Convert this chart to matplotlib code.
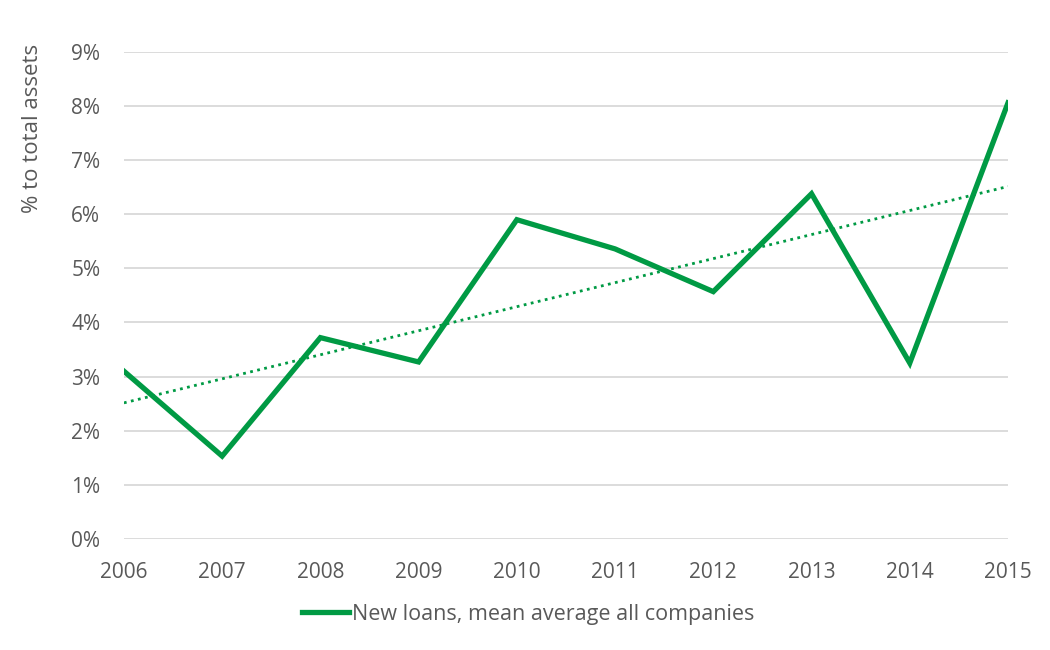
import numpy as np
import matplotlib.pyplot as plt
from matplotlib.ticker import FuncFormatter

plt.rcParams['font.family'] = ['Open Sans', 'DejaVu Sans']

YEARS = [2006, 2007, 2008, 2009, 2010, 2011, 2012, 2013, 2014, 2015]
NEW_LOANS = [3.10, 1.53, 3.72, 3.27, 5.90, 5.36, 4.57, 6.38, 3.25, 8.06]

GREEN = "#009A44"
TEXT = "#595959"

fig = plt.figure(figsize=(10.5, 6.5), dpi=100)
ax = fig.add_axes([0.118, 0.171, 0.842, 0.749])

x = np.array(YEARS)
y = np.array(NEW_LOANS)

# linear trend, like the spreadsheet trendline
slope, icept = np.polyfit(x, y, 1)
ax.plot(x, slope * x + icept, color=GREEN, lw=2.0, ls=(0, (1, 1.6)), zorder=3)

ax.plot(x, y, color=GREEN, lw=3.8, solid_joinstyle="miter", zorder=4,
        label="New loans, mean average all companies")

ax.set_xlim(2006, 2015)
ax.set_ylim(0, 9)
ax.set_xticks(YEARS)
ax.set_yticks(range(0, 10))
ax.yaxis.set_major_formatter(FuncFormatter(lambda v, p: f"{int(v)}%"))
ax.grid(axis="y", color="#d9d9d9", lw=1.3)
ax.set_axisbelow(True)
for s in ax.spines.values():
    s.set_visible(False)
ax.tick_params(length=0, labelsize=15, colors=TEXT)
ax.tick_params(axis="x", pad=17)
ax.tick_params(axis="y", pad=17)

fig.text(0.031, 0.803, "% to total assets", rotation=90, fontsize=16,
         color=TEXT, ha="center", va="center")

h, l = ax.get_legend_handles_labels()
leg = fig.legend(h, l, loc="center", bbox_to_anchor=(0.503, 0.055), frameon=False,
                 fontsize=15.5, handlelength=2.2, handletextpad=0.15)
for t in leg.get_texts():
    t.set_color(TEXT)

fig.savefig("out.png", dpi=100)
